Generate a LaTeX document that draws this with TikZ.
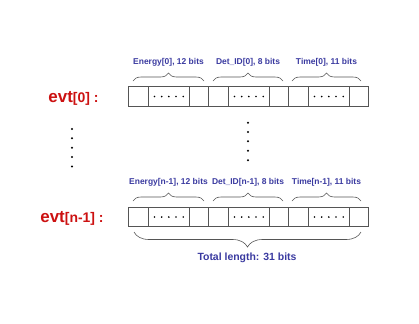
\documentclass[tikz,border=0pt]{standalone}
\usepackage{fontspec}
\setmainfont{Liberation Sans}
\usetikzlibrary{decorations.pathreplacing}
\definecolor{evtred}{HTML}{CC1111}
\definecolor{lblblue}{HTML}{3A3AA0}
\definecolor{linegray}{HTML}{555555}
\tikzset{
  cell/.style={draw=linegray, line width=0.7bp, rectangle, inner sep=0pt, minimum height=19.5bp, anchor=west, fill=white},
  fieldlbl/.style={text=lblblue, font=\bfseries\fontsize{8.5}{10}\selectfont, inner sep=0pt},
  totallbl/.style={text=lblblue, font=\bfseries\fontsize{10.5}{12}\selectfont, inner sep=0pt},
  evtlbl/.style={text=evtred, inner sep=0pt, font=\bfseries},
  bracetop/.style={draw=linegray, line width=0.6bp, decorate, decoration={brace, amplitude=8bp}},
  bracebot/.style={draw=linegray, line width=0.6bp, decorate, decoration={brace, amplitude=15bp, mirror}},
  vdot/.style={fill=black, circle, inner sep=0pt, minimum size=2.2bp}
}
\begin{document}
\begin{tikzpicture}[x=1bp, y=-1bp]
\useasboundingbox (0,0) rectangle (419,324);
% rows of cells
\foreach \r/\yy in {a/96.5, b/217} {
  \foreach \g/\gx in {1/128, 2/208, 3/288} {
    \node[cell, minimum width=20bp] (\r\g l) at (\gx,\yy) {};
    \node[cell, minimum width=41bp] (\r\g m) at (\gx+20,\yy) {};
    \node[cell, minimum width=19bp] (\r\g r) at (\gx+61,\yy) {};
    \foreach \k in {-2,...,2} {
      \node[vdot, minimum size=1.8bp] (\r\g d\k) at ([xshift=\k*7.2bp]\r\g m.center) {};
    }
  }
}
% evt labels
\node[evtlbl, anchor=base] (evt0) at (73.5,102) {{\fontsize{17}{20}\selectfont evt}{\fontsize{14}{16}\selectfont [0] :}};
\node[evtlbl, anchor=base] (evtn) at (72,222.5) {{\fontsize{17}{20}\selectfont evt}{\fontsize{14}{16}\selectfont [n-1] :}};
% top braces
\foreach \r/\yb in {a/81, b/201} {
  \coordinate (\r s1) at (133,\yb); \coordinate (\r e1) at (204,\yb);
  \coordinate (\r s2) at (213,\yb); \coordinate (\r e2) at (283,\yb);
  \coordinate (\r s3) at (292,\yb); \coordinate (\r e3) at (361,\yb);
  \draw[bracetop] (\r s1) -- (\r e1);
  \draw[bracetop] (\r s2) -- (\r e2);
  \draw[bracetop] (\r s3) -- (\r e3);
}
\node[fieldlbl] (la1) at (168.5,62) {Energy[0], 12 bits};
\node[fieldlbl] (la2) at (248,62) {Det\_ID[0], 8 bits};
\node[fieldlbl] (la3) at (326.5,62) {Time[0], 11 bits};
\node[fieldlbl] (lb1) at (168.5,182) {Energy[n-1], 12 bits};
\node[fieldlbl] (lb2) at (248,182) {Det\_ID[n-1], 8 bits};
\node[fieldlbl] (lb3) at (326.5,182) {Time[n-1], 11 bits};
% bottom brace
\coordinate (ts) at (134,232); \coordinate (te) at (361,232);
\draw[bracebot] (ts) -- (te);
\node[totallbl] (total) at (247,258) {Total length: 31 bits};
% vertical dots
\foreach \i/\yy in {1/129, 2/138.3, 3/147.7, 4/157, 5/166.5} {
  \node[vdot] (ld\i) at (72,\yy) {};
}
\foreach \i/\yy in {1/122.7, 2/132, 3/141.3, 4/150.7, 5/160.2} {
  \node[vdot] (md\i) at (248,\yy) {};
}
\end{tikzpicture}
\end{document}
